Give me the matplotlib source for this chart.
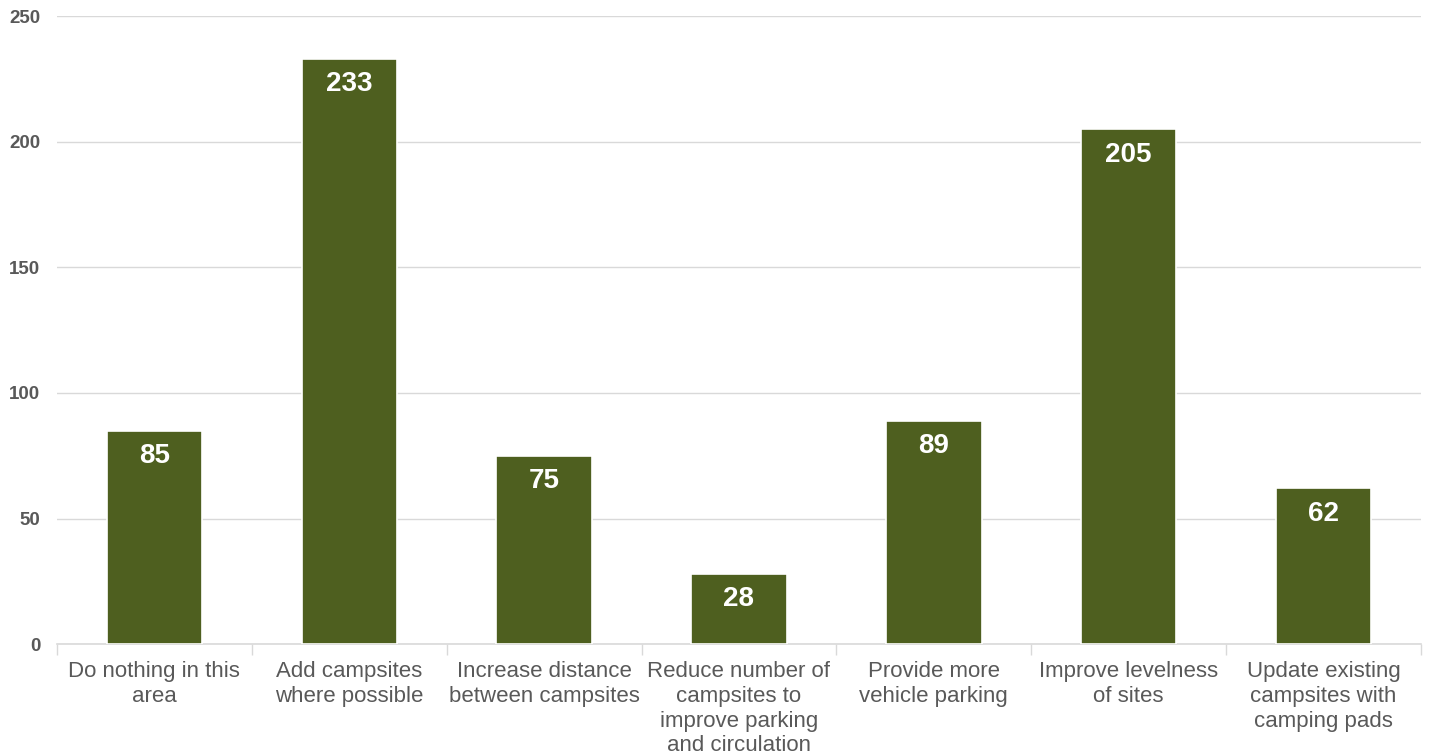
import numpy as np
import matplotlib.pyplot as plt

categories = [
    "Do nothing in this\narea",
    "Add campsites\nwhere possible",
    "Increase distance\nbetween campsites",
    "Reduce number of\ncampsites to\nimprove parking\nand circulation",
    "Provide more\nvehicle parking",
    "Improve levelness\nof sites",
    "Update existing\ncampsites with\ncamping pads",
]
values = [85, 233, 75, 28, 89, 205, 62]
yticks = [0, 50, 100, 150, 200, 250]

plt.rcParams['font.family'] = ['Liberation Sans', 'DejaVu Sans']
grey = '#595959'
bar_color = '#4E5F1F'

fig = plt.figure(figsize=(14.32, 7.56), dpi=100)
ax = fig.add_axes([0.0398, 0.148, 0.9525, 0.8307])

x = np.arange(len(categories))
bars = ax.bar(x, values, width=0.49, color=bar_color, edgecolor='white', linewidth=1.2, zorder=3)

for b, v in zip(bars, values):
    ax.text(b.get_x() + b.get_width() / 2, v - 5.0, str(v), ha='center', va='top',
            color='white', fontsize=20, fontweight='bold', zorder=4)

ax.set_xlim(-0.5, len(categories) - 0.5)
ax.set_ylim(0, 250)
ax.set_yticks(yticks)
ax.set_yticklabels([str(t) for t in yticks], fontsize=13.5, fontweight='bold', color=grey)
ax.tick_params(axis='y', length=0, pad=12)

ax.set_xticks(x)
ax.set_xticklabels(categories, fontsize=16, color=grey, linespacing=1.22)
ax.set_xticks(np.arange(-0.5, len(categories)), minor=True)
ax.tick_params(axis='x', which='major', length=0, pad=12.5)
ax.tick_params(axis='x', which='minor', length=8, color='#D9D9D9', width=1)

ax.grid(axis='y', color='#D9D9D9', linewidth=1, zorder=0)
for s in ['top', 'right', 'left']:
    ax.spines[s].set_visible(False)
ax.spines['bottom'].set_color('#D9D9D9')
ax.spines['bottom'].set_linewidth(1.2)

fig.savefig('out.png', dpi=100)
